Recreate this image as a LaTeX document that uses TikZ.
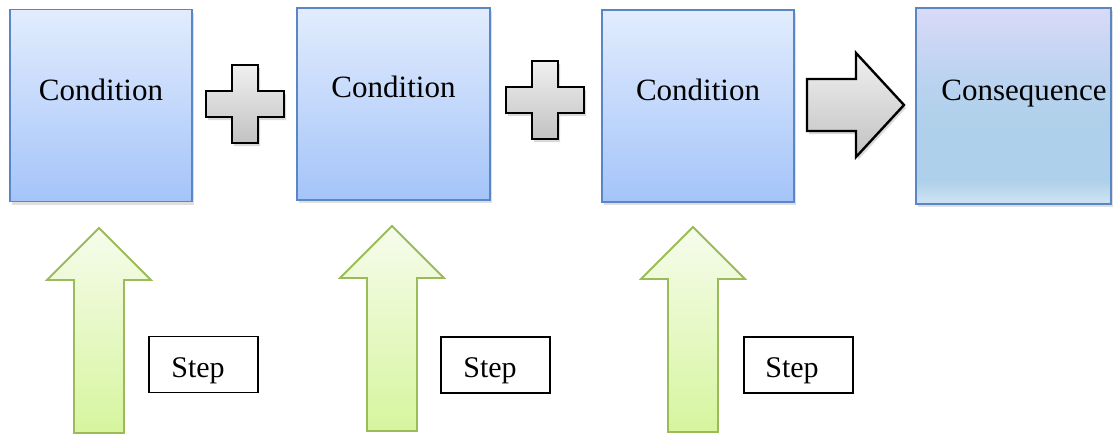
\documentclass[tikz,border=0pt]{standalone}
\usepackage{fontspec}
\setmainfont{Liberation Serif}
\usetikzlibrary{shadows}
\definecolor{cbT}{HTML}{E2ECFD}
\definecolor{cbB}{HTML}{A4C4F9}
\definecolor{cbD}{HTML}{5A86C6}
\definecolor{csT}{HTML}{D9DAF7}
\definecolor{csM}{HTML}{BCD3F0}
\definecolor{csL}{HTML}{AED0EA}
\definecolor{csB}{HTML}{CFE4F3}
\definecolor{gT}{HTML}{F6FCEC}
\definecolor{gB}{HTML}{D6F59E}
\definecolor{gD}{HTML}{9BBB59}
\definecolor{grT}{HTML}{F0F0F0}
\definecolor{grB}{HTML}{C2C2C2}
\pgfdeclareverticalshading{conseqshade}{100bp}{color(0bp)=(csB);color(25bp)=(csB);color(31bp)=(csL);color(45bp)=(csL);color(58bp)=(csM);color(75bp)=(csT);color(100bp)=(csT)}
\tikzset{
  condbox/.style={draw=cbD, line width=1.8pt, top color=cbT, bottom color=cbB,
    drop shadow={opacity=0.25, shadow xshift=1.5pt, shadow yshift=-3pt}, inner sep=0pt},
  consbox/.style={draw=cbD, line width=1.8pt, shading=conseqshade,
    drop shadow={opacity=0.25, shadow xshift=1.5pt, shadow yshift=-3pt}, inner sep=0pt},
  bigtext/.style={font=\fontsize{31}{36}\selectfont, anchor=base, inner sep=0pt},
  stepbox/.style={draw=black, line width=1.5pt, fill=white, minimum width=109pt, minimum height=56pt, inner sep=0pt},
  steptext/.style={font=\fontsize{30}{34}\selectfont, anchor=base, inner sep=0pt},
  grayshape/.style={draw=black, line width=2.4pt, top color=grT, bottom color=grB, line join=miter,
    drop shadow={opacity=0.3, shadow xshift=2pt, shadow yshift=-3pt}},
  greenshape/.style={draw=gD, line width=1.8pt, top color=gT, bottom color=gB, line join=miter},
  pics/plussign/.style={code={
    \path[grayshape] (-13,-39) -- (13,-39) -- (13,-13) -- (39,-13) -- (39,13) -- (13,13)
      -- (13,39) -- (-13,39) -- (-13,13) -- (-39,13) -- (-39,-13) -- (-13,-13) -- cycle;}},
  pics/uparrow/.style={code={
    \path[greenshape] (0,0) -- (52,52) -- (25,52) -- (25,205) -- (-25,205) -- (-25,52) -- (-52,52) -- cycle;}}
}
\begin{document}
\begin{tikzpicture}[x=1pt,y=-1pt]
\useasboundingbox (0,0) rectangle (1113,437);

% condition boxes
\node[condbox, minimum width=182pt, minimum height=192pt] (c1) at (101,105.5) {};
\node[condbox, minimum width=193pt, minimum height=192pt] (c2) at (393.5,104) {};
\node[condbox, minimum width=192pt, minimum height=192pt] (c3) at (698,106) {};
\node[consbox, minimum width=195pt, minimum height=196pt] (c4) at (1013.5,106) {};

\node[bigtext] (t1) at (101,100) {Condition};
\node[bigtext] (t2) at (393.5,97) {Condition};
\node[bigtext] (t3) at (698,100) {Condition};
\node[bigtext] (t4) at (1024,100) {Consequence};

% plus signs
\pic at (245,104) {plussign};
\pic at (545,100) {plussign};

% right arrow
\path[grayshape] (807,79) -- (856,79) -- (856,53) -- (904,105) -- (856,157) -- (856,131) -- (807,131) -- cycle;

% up arrows
\pic at (99,228) {uparrow};
\pic at (392,226) {uparrow};
\pic at (693,227) {uparrow};

% step boxes
\node[stepbox] (s1) at (203.5,364.5) {};
\node[stepbox] (s2) at (495.5,365) {};
\node[stepbox] (s3) at (798.5,365) {};
\node[steptext] (st1) at (198,377) {Step};
\node[steptext] (st2) at (490,377) {Step};
\node[steptext] (st3) at (792,377) {Step};
\end{tikzpicture}
\end{document}
